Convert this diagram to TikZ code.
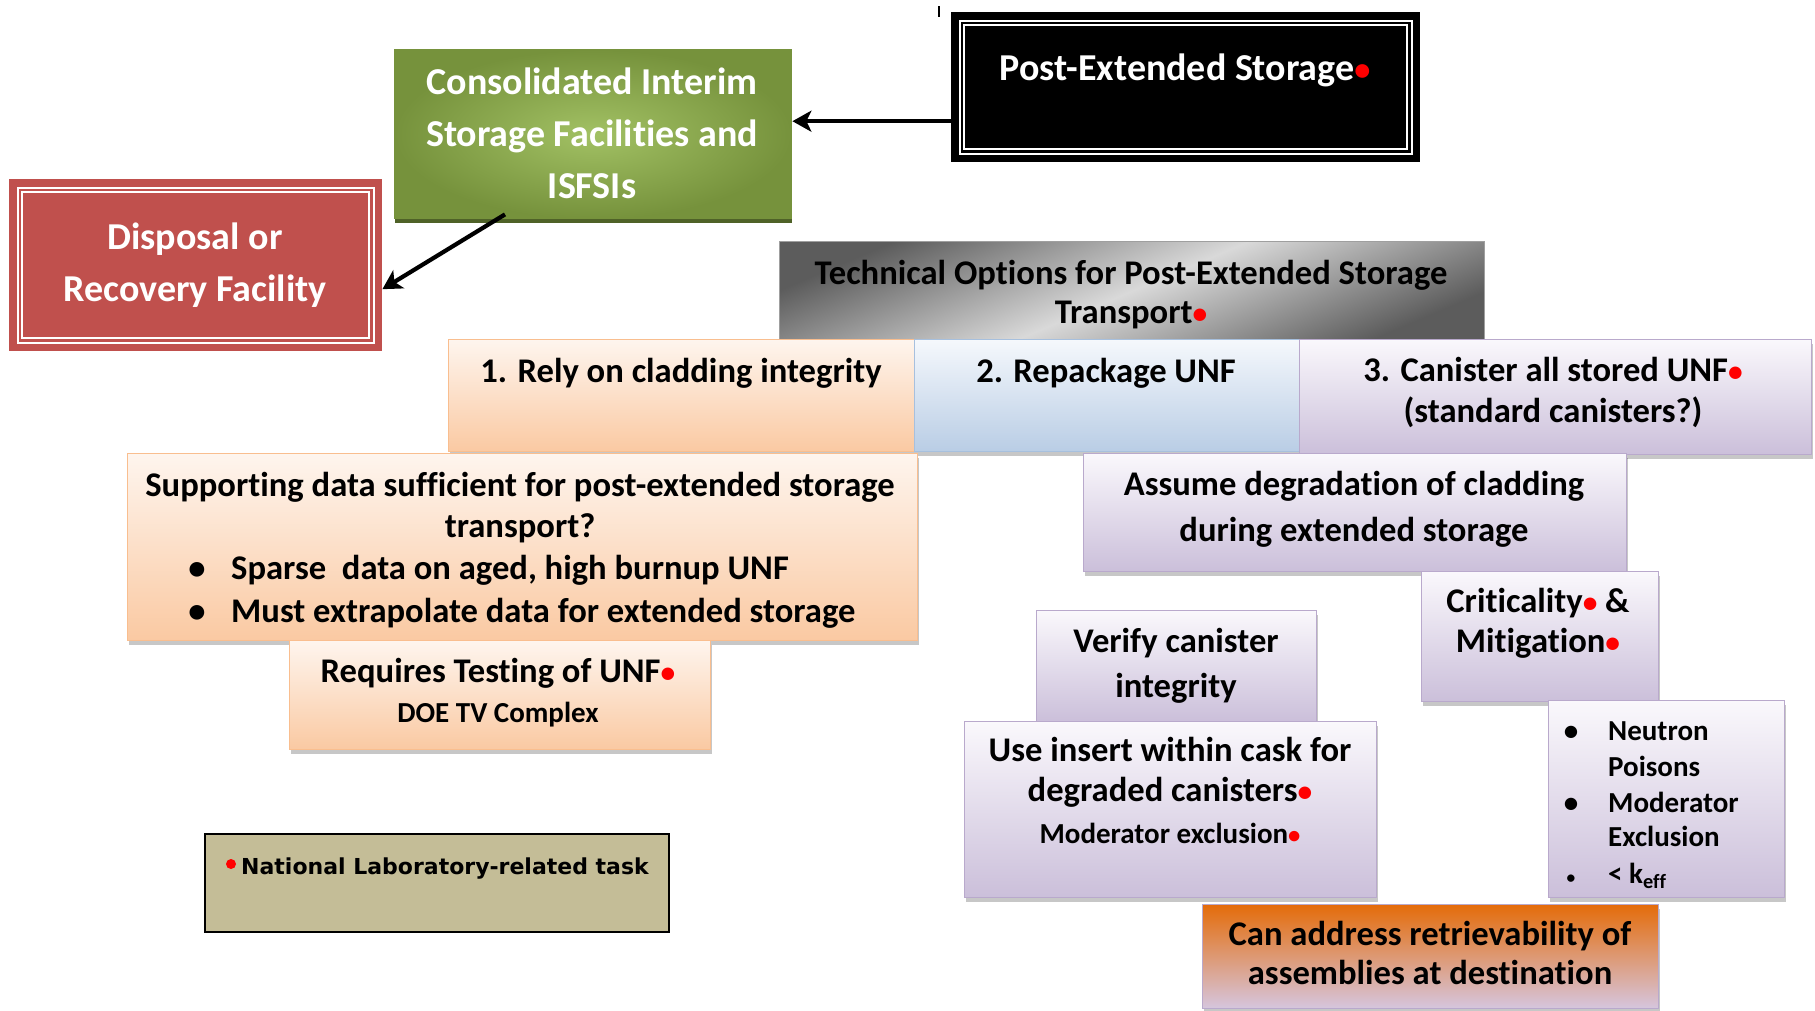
\documentclass[tikz,border=0pt]{standalone}
\usepackage{fontspec}
\setmainfont{Carlito}[Ligatures=NoCommon]
\newfontfamily\legfont{DejaVu Sans}
\usepackage{graphicx}
\usetikzlibrary{shadows,arrows.meta}
\definecolor{peachT}{HTML}{FEF5EE}
\definecolor{peachB}{HTML}{FAC9A2}
\definecolor{peachD}{HTML}{F9BE8F}
\definecolor{blueT}{HTML}{F5F8FC}
\definecolor{blueB}{HTML}{B9CDE5}
\definecolor{blueD}{HTML}{A7C0DE}
\definecolor{purT}{HTML}{FAF8FC}
\definecolor{purB}{HTML}{CBBFDA}
\definecolor{purD}{HTML}{B9A9CC}
\definecolor{grnIn}{HTML}{A2C164}
\definecolor{grnOut}{HTML}{76923C}
\definecolor{grnDk}{HTML}{4F6228}
\definecolor{redF}{HTML}{C0504D}
\definecolor{legtan}{HTML}{C4BD97}
\definecolor{orgT}{HTML}{E46C0A}
\definecolor{orgB}{HTML}{D6C6DF}
\definecolor{gryD}{HTML}{5C5C5C}
\definecolor{gryL}{HTML}{D9D9D9}
\definecolor{dotred}{HTML}{FF0000}
\newcommand\rdot{{\color{dotred}\scalebox{0.85}{•}}}
\begin{document}
\begin{tikzpicture}[x=1pt,y=-1pt,
  box/.style={draw, line width=1.4pt, inner sep=0pt, anchor=north west},
  shd/.style={drop shadow={shadow xshift=1.5pt, shadow yshift=-4pt, fill=black, opacity=0.22}},
  peach/.style={box, shd, draw=peachD, top color=peachT, bottom color=peachB},
  bluebox/.style={box, shd, draw=blueD, top color=blueT, bottom color=blueB},
  purple/.style={box, shd, draw=purD, top color=purT, bottom color=purB},
  txt/.style={inner sep=0pt, anchor=base, font=\bfseries\fontsize{34.6}{41}\selectfont},
  wtxt/.style={txt, text=white, font=\bfseries\fontsize{38}{46}\selectfont},
  stxt/.style={txt, font=\bfseries\fontsize{29}{35}\selectfont},
  arr/.style={line width=4.2pt, -{Stealth[length=19pt,width=21pt,inset=5pt]}},
  inner double/.style={draw=white, line width=2pt, double=#1, double distance=2.6pt},
]
\useasboundingbox (0,0) rectangle (1815,1010);
\fill[white] (0,0) rectangle (1815,1010);

% top boxes
\node[box, draw=black, fill=black, minimum width=468pt, minimum height=149pt] (pes) at (951,12) {};
\draw[inner double=black] ([shift={(11pt,-11pt)}]pes.north west) rectangle ([shift={(-11pt,11pt)}]pes.south east);
\draw[line width=2pt] (939,6) -- (939,17);

\node[box, draw=grnOut, inner color=grnIn, outer color=grnOut,
  drop shadow={shadow xshift=0pt, shadow yshift=-4pt, fill=grnDk, opacity=1},
  minimum width=397pt, minimum height=169pt] (grn) at (394,49) {};

\node[box, draw=redF, fill=redF, minimum width=372pt, minimum height=171pt] (red) at (9,179) {};
\draw[inner double=redF] ([shift={(11pt,-11pt)}]red.north west) rectangle ([shift={(-11pt,11pt)}]red.south east);

\node[box, draw=gray!75, top color=gryD, bottom color=gryD, middle color=gryL, shading angle=23,
  minimum width=705pt, minimum height=98pt] (gry) at (779,241) {};

% option boxes
\node[peach, minimum width=466pt, minimum height=112pt] (b1) at (448,339) {};
\node[bluebox, minimum width=385pt, minimum height=112pt] (b2) at (914,339) {};
\node[purple, minimum width=512pt, minimum height=115pt] (b3) at (1299,339) {};

\node[peach, minimum width=790pt, minimum height=187pt] (sup) at (127,453) {};
\node[purple, minimum width=543pt, minimum height=118pt] (asm) at (1083,453) {};
\node[purple, minimum width=237pt, minimum height=130pt] (crit) at (1421,571) {};
\node[purple, minimum width=280pt, minimum height=111pt] (ver) at (1036,610) {};
\node[peach, minimum width=421pt, minimum height=109pt] (req) at (289,640) {};
\node[purple, minimum width=236pt, minimum height=197pt] (neu) at (1548,700) {};
\node[purple, minimum width=412pt, minimum height=176pt] (ins) at (964,721) {};
\node[box, draw=black, line width=2pt, fill=legtan, minimum width=464pt, minimum height=98pt] (leg) at (204,833) {};
\node[box, shd, draw=purD, top color=orgT, bottom color=orgB, minimum width=456pt, minimum height=104pt] (org) at (1202,904) {};

% connectors
\draw[arr] ([yshift=-34pt]pes.west) -- ([yshift=-34pt]pes.west -| grn.east);
\draw[arr] ([xshift=111pt,yshift=5pt]grn.south west) -- ([yshift=-24pt]red.east);

% legend
\node[circle, fill=dotred, minimum size=10pt, inner sep=0pt] (ldot) at (231,864) {};
\node[inner sep=0pt, anchor=base west, font=\legfont\bfseries\fontsize{22}{26}\selectfont] (lt) at (241,874) {National Laboratory-related task};

% texts
\begin{scope}[yshift=-4pt]
\node[wtxt] (pest) at (1185,76) {Post-Extended\ Storage\rdot};
\node[wtxt] (g1) at (592,90) {Consolidated\ Interim};
\node[wtxt] (g2) at (592,142) {Storage Facilities and};
\node[wtxt] (g3) at (592,194) {ISFSIs};
\node[wtxt] (r1) at (195,245) {Disposal\ or};
\node[wtxt] (r2) at (195,297) {Recovery Facility};

\node[txt] (t1) at (1131,280) {Technical Options for Post-Extended Storage};
\node[txt] (t2) at (1131,319) {Transport\rdot};

\node[txt] (o1) at (681,378) {1. Rely on cladding integrity};
\node[txt] (o2) at (1106,378) {2. Repackage UNF};
\node[txt] (o3a) at (1553,377) {3. Canister all stored UNF\rdot};
\node[txt] (o3b) at (1553,418) {(standard canisters?)};

\node[txt] (s1) at (520,492) {Supporting data sufficient for post-extended storage};
\node[txt] (s2) at (520,533) {transport?};
\node[txt] (sb1) at (197,575) {•};
\node[txt, anchor=base west] (s3) at (231,575) {Sparse\ \ data on aged, high burnup UNF};
\node[txt] (sb2) at (197,618) {•};
\node[txt, anchor=base west] (s4) at (231,618) {Must extrapolate data for extended storage};

\node[txt] (q1) at (498,678) {Requires Testing of UNF\rdot};
\node[stxt] (q2) at (498,718) {DOE TV Complex};

\node[txt] (a1) at (1354,491) {Assume degradation of cladding};
\node[txt] (a2) at (1354,537) {during extended storage};

\node[txt] (c1) at (1538,608) {Criticality\rdot\ \&};
\node[txt] (c2) at (1538,648) {Mitigation\rdot};

\node[txt] (v1) at (1176,648) {Verify canister};
\node[txt] (v2) at (1176,693) {integrity};

\node[txt] (i1) at (1170,757) {Use insert within cask for};
\node[txt] (i2) at (1170,797) {degraded canisters\rdot};
\node[stxt] (i3) at (1170,839) {Moderator exclusion\rdot};

\node[stxt] (nb1) at (1571,736) {•};
\node[stxt, anchor=base west] (n1) at (1608,736) {Neutron};
\node[stxt, anchor=base west] (n2) at (1608,772) {Poisons};
\node[stxt] (nb2) at (1571,808) {•};
\node[stxt, anchor=base west] (n3) at (1608,808) {Moderator};
\node[stxt, anchor=base west] (n4) at (1608,842) {Exclusion};
\node[stxt] (nb3) at (1571,879) {\scalebox{0.6}{•}};
\node[stxt, anchor=base west] (n5) at (1608,879) {< k\textsubscript{eff}};

\node[txt] (og1) at (1430,941) {Can address retrievability of};
\node[txt] (og2) at (1430,980) {assemblies at destination};
\end{scope}
\end{tikzpicture}
\end{document}
